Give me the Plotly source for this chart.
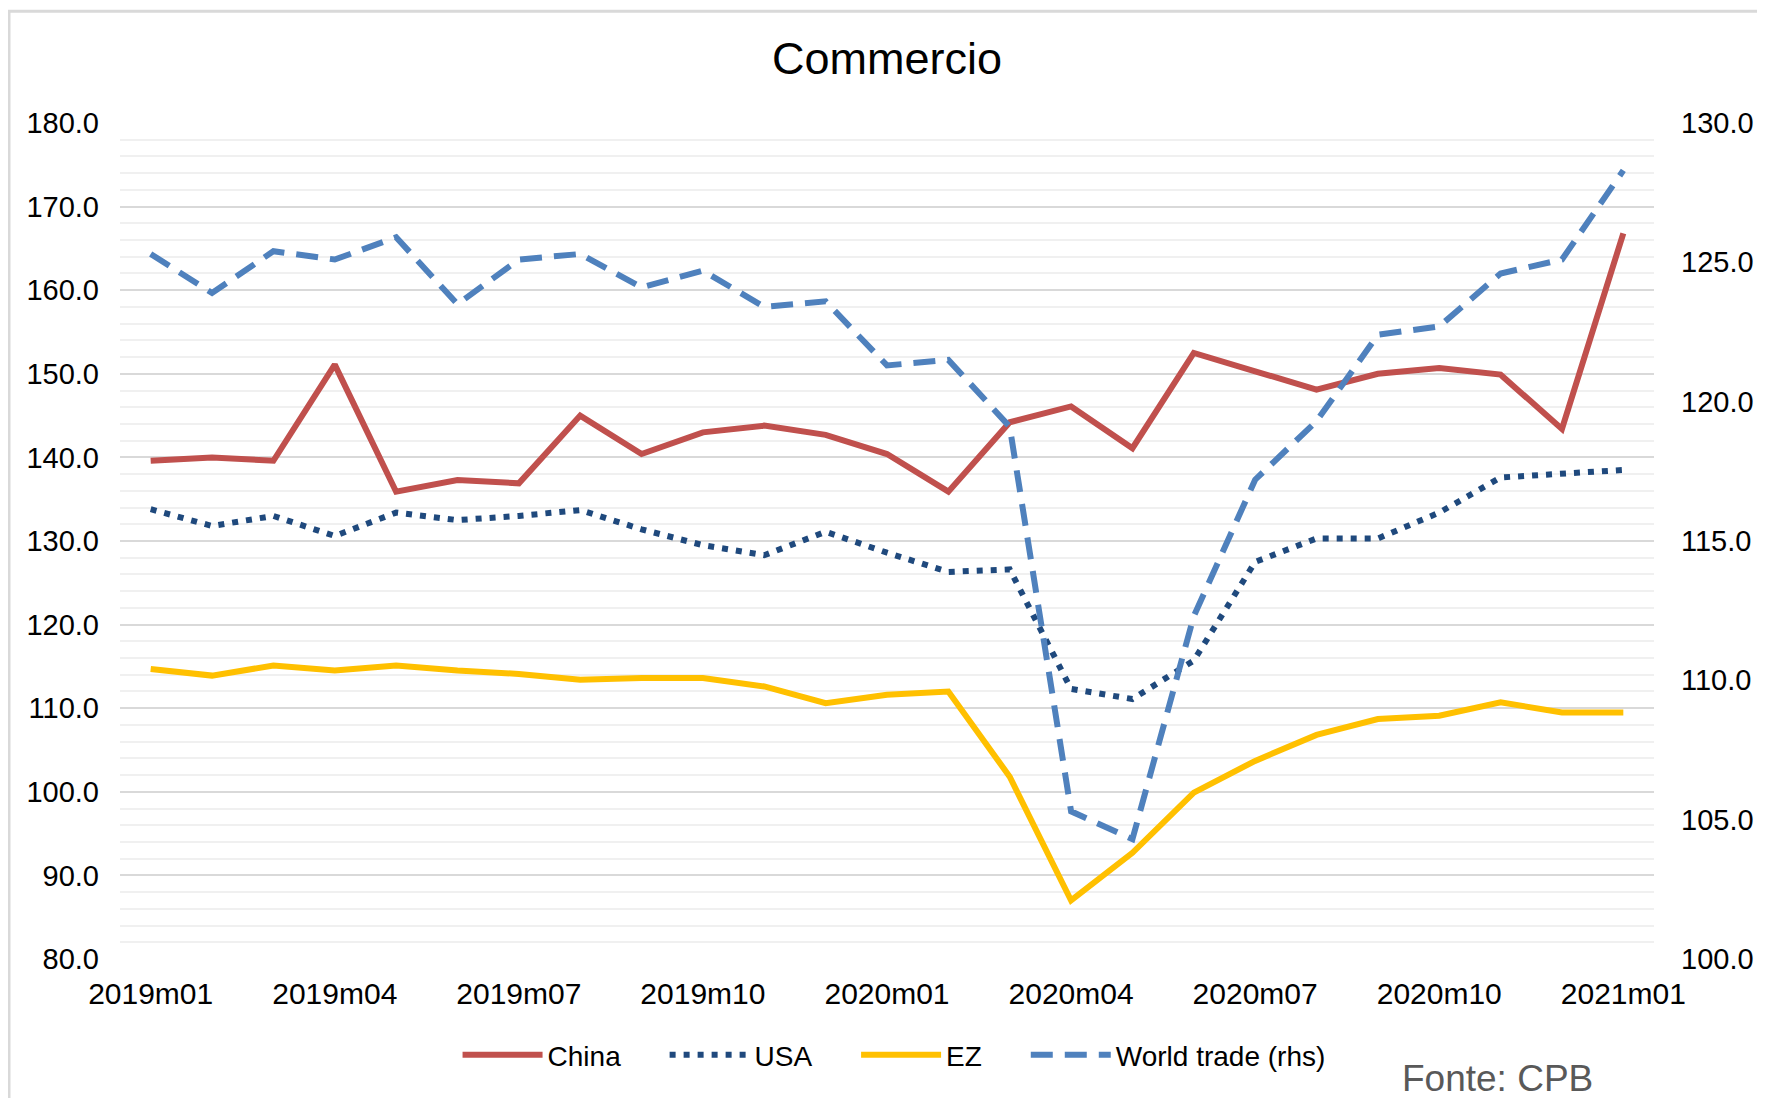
import plotly.graph_objects as go

months = ["2019m01", "2019m02", "2019m03", "2019m04", "2019m05", "2019m06",
          "2019m07", "2019m08", "2019m09", "2019m10", "2019m11", "2019m12",
          "2020m01", "2020m02", "2020m03", "2020m04", "2020m05", "2020m06",
          "2020m07", "2020m08", "2020m09", "2020m10", "2020m11", "2020m12",
          "2021m01"]

china = [139.6, 140.0, 139.6, 151.1, 135.9, 137.3, 136.9, 145.0, 140.4, 143.0,
         143.8, 142.7, 140.4, 135.9, 144.2, 146.1, 141.1, 152.5, 150.3, 148.1,
         150.0, 150.7, 149.9, 143.4, 166.8]

usa = [133.8, 131.8, 133.0, 130.6, 133.4, 132.5, 133.0, 133.7, 131.4, 129.5,
       128.3, 131.1, 128.6, 126.3, 126.6, 112.3, 111.1, 115.7, 127.5, 130.3,
       130.3, 133.4, 137.6, 138.1, 138.5]

ez = [114.7, 113.9, 115.1, 114.5, 115.1, 114.5, 114.1, 113.4, 113.6, 113.6,
      112.6, 110.6, 111.6, 112.0, 101.8, 87.0, 92.7, 99.9, 103.7, 106.8,
      108.7, 109.1, 110.7, 109.5, 109.5]

world_trade = [125.3, 123.9, 125.4, 125.1, 125.9, 123.5, 125.1, 125.3, 124.1, 124.7,
               123.4, 123.6, 121.3, 121.5, 119.1, 105.3, 104.3, 112.3, 117.2, 119.3,
               122.4, 122.7, 124.6, 125.1, 128.3]

tick_months = months[::3]

FONT = "Liberation Sans, Arial, sans-serif"
PAD = "\u00a0" * 5  # extra room between legend entries

fig = go.Figure()
fig.add_trace(go.Scatter(x=months, y=china, name="China" + PAD, mode="lines",
                         line=dict(color="#C0504D", width=6)))
fig.add_trace(go.Scatter(x=months, y=usa, name="USA" + PAD, mode="lines",
                         line=dict(color="#1F497D", width=6, dash="6px,8px")))
fig.add_trace(go.Scatter(x=months, y=ez, name="EZ" + PAD, mode="lines",
                         line=dict(color="#FFC000", width=6)))
fig.add_trace(go.Scatter(x=months, y=world_trade, name="World trade (rhs)", mode="lines",
                         yaxis="y2",
                         line=dict(color="#4F81BD", width=6, dash="22px,12px")))

# chart frame like the Excel chart area
fig.add_shape(type="rect", xref="paper", yref="paper",
              x0=(9 - 120) / 1534, x1=1.2, y0=-0.3, y1=(959 - 11) / 836.3,
              line=dict(color="#D9D9D9", width=3), fillcolor="rgba(0,0,0,0)",
              layer="below")

fig.add_annotation(text="Fonte: CPB", xref="paper", yref="paper",
                   x=0.898, y=-0.143, xanchor="center", yanchor="middle",
                   showarrow=False,
                   font=dict(family=FONT, size=37, color="#595959"))

fig.update_layout(
    width=1757, height=1090,
    margin=dict(l=112, r=111, t=115, b=139),
    paper_bgcolor="white", plot_bgcolor="white",
    font=dict(family=FONT, size=29, color="black"),
    title=dict(text="Commercio", x=0.5, xref="paper", y=1 - 50 / 1090,
               yref="container", xanchor="center", yanchor="middle",
               font=dict(family=FONT, size=45, color="black")),
    showlegend=True,
    legend=dict(orientation="h", x=0.5046, y=-0.1148, xanchor="center",
                yanchor="middle", itemwidth=80, font=dict(size=28),
                bgcolor="rgba(0,0,0,0)"),
    xaxis=dict(type="category", range=[-0.5, 24.5], tickvals=tick_months,
               ticktext=tick_months, showgrid=False, zeroline=False,
               showline=False, ticks="", ticklabelstandoff=14,
               tickfont=dict(size=30)),
    yaxis=dict(range=[80, 180], dtick=10, tickformat=".1f", showgrid=True,
               gridcolor="#D9D9D9", gridwidth=2, zeroline=False, ticks="",
               ticklabelstandoff=20,
               minor=dict(dtick=2, showgrid=True, gridcolor="#F0F0F0", gridwidth=2)),
    yaxis2=dict(range=[100, 130], dtick=5, tickformat=".1f", overlaying="y",
                side="right", showgrid=False, zeroline=False, ticks="",
                ticklabelstandoff=26),
)

fig.write_html("out.html")
